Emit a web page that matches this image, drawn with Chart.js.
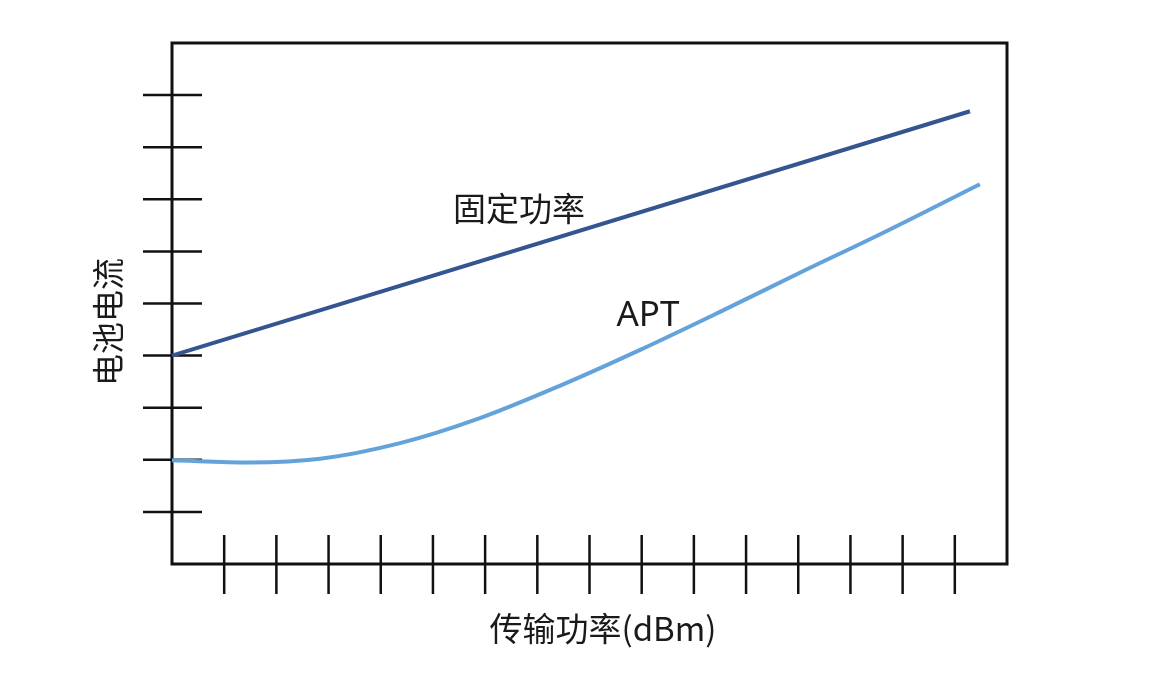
<!DOCTYPE html>
<html>
<head>
<meta charset="utf-8">
<script src="https://cdn.jsdelivr.net/npm/chart.js@4"></script>
<style>
  html, body { margin: 0; padding: 0; background: #fff; }
  canvas { display: block; }
</style>
</head>
<body>
<canvas id="chart" width="1157" height="698"></canvas>
<script>
// données (unités arbitraires)
const xTicks = [1, 2, 3, 4, 5, 6, 7, 8, 9, 10, 11, 12, 13, 14, 15];
const yTicks = [1, 2, 3, 4, 5, 6, 7, 8, 9];

const fixedX = [0, 15.29];
const fixedY = [4.0, 8.69];

const aptX = [0, 1.49, 2.84, 4.37, 5.90, 7.43, 8.97, 10.50, 12.03, 13.57, 15.48];
const aptY = [1.99, 1.95, 2.02, 2.32, 2.80, 3.42, 4.11, 4.84, 5.59, 6.33, 7.29];

const xTitle = '传输功率(dBm)';
const yTitle = '电池电流';
const fixedLabel = '固定功率';
const aptLabel = 'APT';

const toPoints = (xs, ys) => xs.map((x, i) => ({ x: x, y: ys[i] }));

// cadre + petites croix sur les axes
const framePlugin = {
  id: 'frame',
  beforeDatasetsDraw(chart) {
    const { ctx, chartArea, scales } = chart;
    const a = chartArea;
    ctx.save();
    ctx.strokeStyle = '#111';
    ctx.lineWidth = 2.5;
    xTicks.forEach(v => {
      const px = scales.x.getPixelForValue(v);
      ctx.beginPath();
      ctx.moveTo(px, a.bottom - 29);
      ctx.lineTo(px, a.bottom + 30);
      ctx.stroke();
    });
    yTicks.forEach(v => {
      const py = scales.y.getPixelForValue(v);
      ctx.beginPath();
      ctx.moveTo(a.left - 29, py);
      ctx.lineTo(a.left + 30, py);
      ctx.stroke();
    });
    ctx.lineWidth = 3;
    ctx.strokeRect(a.left, a.top, a.right - a.left, a.bottom - a.top);
    ctx.restore();
  },
  afterDraw(chart) {
    const { ctx, scales } = chart;
    ctx.save();
    ctx.fillStyle = '#1a1a1a';
    ctx.textAlign = 'center';
    ctx.textBaseline = 'middle';
    ctx.font = '33px "Noto Sans CJK SC", "Noto Sans", sans-serif';
    ctx.fillText(xTitle, 603, 628);
    ctx.fillText(fixedLabel, scales.x.getPixelForValue(6.65), scales.y.getPixelForValue(6.83));
    ctx.save();
    ctx.translate(108, 322);
    ctx.rotate(-Math.PI / 2);
    ctx.font = '32px "Noto Sans CJK SC", "Noto Sans", sans-serif';
    ctx.fillText(yTitle, 0, 0);
    ctx.restore();
    ctx.font = '35px "Noto Sans", sans-serif';
    ctx.fillText(aptLabel, scales.x.getPixelForValue(9.12), scales.y.getPixelForValue(4.76));
    ctx.restore();
  }
};

new Chart(document.getElementById('chart'), {
  type: 'scatter',
  data: {
    datasets: [{
      label: fixedLabel,
      data: toPoints(fixedX, fixedY),
      showLine: true,
      borderColor: '#34558f',
      borderWidth: 4,
      pointRadius: 0,
      fill: false,
    }, {
      label: aptLabel,
      data: toPoints(aptX, aptY),
      showLine: true,
      borderColor: '#64a2da',
      borderWidth: 4,
      pointRadius: 0,
      cubicInterpolationMode: 'monotone',
      fill: false,
    }],
  },
  options: {
    responsive: false,
    animation: false,
    clip: false,
    layout: {
      padding: { left: 172, top: 43, right: 150, bottom: 134 },
    },
    plugins: {
      legend: { display: false },
      tooltip: { enabled: false },
    },
    scales: {
      x: { type: 'linear', min: 0, max: 16, display: false },
      y: { type: 'linear', min: 0, max: 10, display: false },
    },
  },
  plugins: [framePlugin],
});
</script>
</body>
</html>
